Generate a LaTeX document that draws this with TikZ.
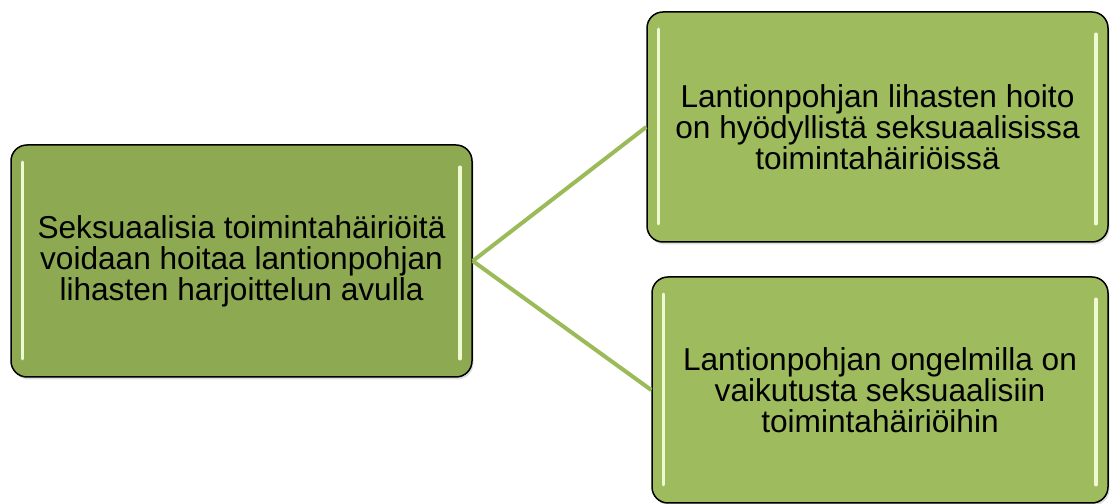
\documentclass[tikz,border=0pt]{standalone}
\usepackage{fontspec}
\setmainfont{Liberation Sans}
\usetikzlibrary{shadows}
\definecolor{leftgreen}{RGB}{141,169,81}
\definecolor{rightgreen}{RGB}{158,187,94}
\definecolor{linkgreen}{RGB}{155,187,89}
\definecolor{shinegreen}{RGB}{240,250,210}
\tikzset{
  box/.style={draw=black, line width=0.03cm, rounded corners=0.32cm,
    align=center, inner sep=0pt,
    font=\fontsize{18pt}{17.6pt}\selectfont,
    drop shadow={shadow xshift=0.03cm, shadow yshift=-0.05cm, opacity=0.25}},
  link/.style={draw=linkgreen, line width=0.08cm},
  shine/.style={draw=shinegreen, line width=0.07cm, line cap=round}
}
\begin{document}
\begin{tikzpicture}
                    \useasboundingbox (0,0) rectangle (22.200000,10.080000);
                    {
                    % Drawing box of the main statement
                    \node [box, fill=leftgreen, minimum width=9.220000cm, minimum height=4.640000cm]
                      (main) at (4.830000,4.860000)
                      {Seksuaalisia toimintahäiriöitä\\voidaan hoitaa lantionpohjan\\lihasten harjoittelun avulla};%

                    % Drawing box of the upper statement
                    \node [box, fill=rightgreen, minimum width=9.220000cm, minimum height=4.600000cm]
                      (upper) at (17.550000,7.540000)
                      {Lantionpohjan lihasten hoito\\on hyödyllistä seksuaalisissa\\toimintahäiriöissä};%

                    % Drawing box of the lower statement
                    \node [box, fill=rightgreen, minimum width=9.120000cm, minimum height=4.520000cm]
                      (lower) at (17.600000,2.280000)
                      {Lantionpohjan ongelmilla on\\vaikutusta seksuaalisiin\\toimintahäiriöihin};%

                    % Drawing link main upper
                    \draw [link] (main.east) -- (upper.west);%

                    % Drawing link main lower
                    \draw [link] (main.east) -- (lower.west);%

                    % Marking shine of each box
                    \foreach \b in {main, upper, lower} {
                      \draw [shine] ([xshift=0.240000cm,yshift=-0.360000cm]\b.north west) -- ([xshift=0.240000cm,yshift=0.380000cm]\b.south west);%
                      \draw [shine] ([xshift=-0.260000cm,yshift=-0.460000cm]\b.north east) -- ([xshift=-0.260000cm,yshift=0.380000cm]\b.south east);%
                    }
                    }
                    \end{tikzpicture}
\end{document}
